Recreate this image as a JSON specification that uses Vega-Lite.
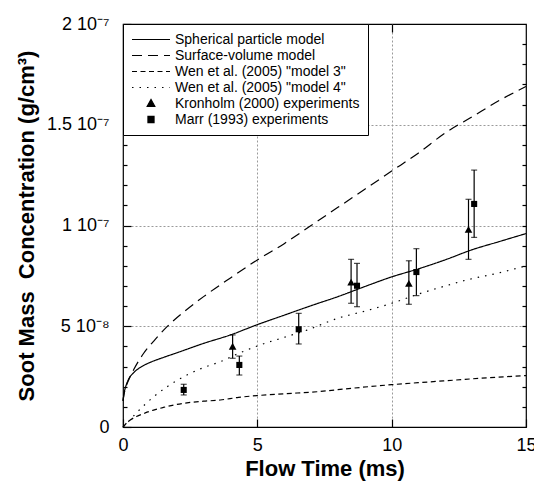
{
  "$schema": "https://vega.github.io/schema/vega-lite/v6.json",
  "width": 403,
  "height": 403,
  "autosize": {"type": "none"},
  "padding": {"left": 123, "top": 24, "right": 8, "bottom": 54},
  "background": "white",
  "config": {
    "font": "Liberation Sans",
    "view": {"stroke": "black", "strokeWidth": 1.2},
    "axis": {"domain": false, "tickColor": "black", "tickWidth": 1.2, "labelColor": "black", "titleColor": "black", "gridColor": "#9a9a9a", "gridDash": [2, 2], "gridWidth": 1, "labelFlush": false, "labelOverlap": false},
    "legend": {"labelLimit": 0}
  },
  "datasets": {
    "models": [
      {"series": "Spherical particle model", "t": 0, "c": 1.3e-8},
      {"series": "Spherical particle model", "t": 0.05, "c": 1.75e-8},
      {"series": "Spherical particle model", "t": 0.1, "c": 2.0e-8},
      {"series": "Spherical particle model", "t": 0.2, "c": 2.35e-8},
      {"series": "Spherical particle model", "t": 0.4, "c": 2.7e-8},
      {"series": "Spherical particle model", "t": 0.7, "c": 3.0e-8},
      {"series": "Spherical particle model", "t": 1.0, "c": 3.2e-8},
      {"series": "Spherical particle model", "t": 1.5, "c": 3.45e-8},
      {"series": "Spherical particle model", "t": 2.0, "c": 3.68e-8},
      {"series": "Spherical particle model", "t": 3.0, "c": 4.15e-8},
      {"series": "Spherical particle model", "t": 4.0, "c": 4.57e-8},
      {"series": "Spherical particle model", "t": 5.0, "c": 5.08e-8},
      {"series": "Spherical particle model", "t": 6.0, "c": 5.55e-8},
      {"series": "Spherical particle model", "t": 7.0, "c": 6.02e-8},
      {"series": "Spherical particle model", "t": 8.0, "c": 6.47e-8},
      {"series": "Spherical particle model", "t": 9.0, "c": 6.97e-8},
      {"series": "Spherical particle model", "t": 10.0, "c": 7.45e-8},
      {"series": "Spherical particle model", "t": 11.0, "c": 7.85e-8},
      {"series": "Spherical particle model", "t": 12.0, "c": 8.3e-8},
      {"series": "Spherical particle model", "t": 13.0, "c": 8.8e-8},
      {"series": "Spherical particle model", "t": 14.0, "c": 9.2e-8},
      {"series": "Spherical particle model", "t": 15.0, "c": 9.6e-8},
      {"series": "Surface-volume model", "t": 0, "c": 1.3e-8},
      {"series": "Surface-volume model", "t": 0.05, "c": 1.7e-8},
      {"series": "Surface-volume model", "t": 0.1, "c": 1.95e-8},
      {"series": "Surface-volume model", "t": 0.2, "c": 2.3e-8},
      {"series": "Surface-volume model", "t": 0.4, "c": 2.85e-8},
      {"series": "Surface-volume model", "t": 0.77, "c": 3.66e-8},
      {"series": "Surface-volume model", "t": 1.2, "c": 4.35e-8},
      {"series": "Surface-volume model", "t": 1.64, "c": 4.98e-8},
      {"series": "Surface-volume model", "t": 2.3, "c": 5.75e-8},
      {"series": "Surface-volume model", "t": 3.0, "c": 6.47e-8},
      {"series": "Surface-volume model", "t": 4.0, "c": 7.4e-8},
      {"series": "Surface-volume model", "t": 5.0, "c": 8.29e-8},
      {"series": "Surface-volume model", "t": 6.0, "c": 9.1e-8},
      {"series": "Surface-volume model", "t": 7.0, "c": 1.0e-7},
      {"series": "Surface-volume model", "t": 8.0, "c": 1.09e-7},
      {"series": "Surface-volume model", "t": 9.0, "c": 1.18e-7},
      {"series": "Surface-volume model", "t": 10.0, "c": 1.27e-7},
      {"series": "Surface-volume model", "t": 11.0, "c": 1.36e-7},
      {"series": "Surface-volume model", "t": 12.0, "c": 1.46e-7},
      {"series": "Surface-volume model", "t": 13.0, "c": 1.54e-7},
      {"series": "Surface-volume model", "t": 14.0, "c": 1.62e-7},
      {"series": "Surface-volume model", "t": 15.0, "c": 1.69e-7},
      {"series": "Wen et al. (2005) \"model 3\"", "t": 0, "c": 0},
      {"series": "Wen et al. (2005) \"model 3\"", "t": 0.1, "c": 0.15e-8},
      {"series": "Wen et al. (2005) \"model 3\"", "t": 0.27, "c": 0.35e-8},
      {"series": "Wen et al. (2005) \"model 3\"", "t": 0.5, "c": 0.52e-8},
      {"series": "Wen et al. (2005) \"model 3\"", "t": 0.83, "c": 0.7e-8},
      {"series": "Wen et al. (2005) \"model 3\"", "t": 1.14, "c": 0.84e-8},
      {"series": "Wen et al. (2005) \"model 3\"", "t": 1.5, "c": 0.97e-8},
      {"series": "Wen et al. (2005) \"model 3\"", "t": 1.88, "c": 1.09e-8},
      {"series": "Wen et al. (2005) \"model 3\"", "t": 2.38, "c": 1.2e-8},
      {"series": "Wen et al. (2005) \"model 3\"", "t": 3.0, "c": 1.28e-8},
      {"series": "Wen et al. (2005) \"model 3\"", "t": 3.62, "c": 1.34e-8},
      {"series": "Wen et al. (2005) \"model 3\"", "t": 4.3, "c": 1.47e-8},
      {"series": "Wen et al. (2005) \"model 3\"", "t": 5.0, "c": 1.56e-8},
      {"series": "Wen et al. (2005) \"model 3\"", "t": 6.0, "c": 1.65e-8},
      {"series": "Wen et al. (2005) \"model 3\"", "t": 7.22, "c": 1.75e-8},
      {"series": "Wen et al. (2005) \"model 3\"", "t": 8.5, "c": 1.92e-8},
      {"series": "Wen et al. (2005) \"model 3\"", "t": 10.0, "c": 2.1e-8},
      {"series": "Wen et al. (2005) \"model 3\"", "t": 11.0, "c": 2.2e-8},
      {"series": "Wen et al. (2005) \"model 3\"", "t": 12.06, "c": 2.3e-8},
      {"series": "Wen et al. (2005) \"model 3\"", "t": 13.66, "c": 2.45e-8},
      {"series": "Wen et al. (2005) \"model 3\"", "t": 15.0, "c": 2.55e-8},
      {"series": "Wen et al. (2005) \"model 4\"", "t": 0, "c": 0},
      {"series": "Wen et al. (2005) \"model 4\"", "t": 0.14, "c": 0.18e-8},
      {"series": "Wen et al. (2005) \"model 4\"", "t": 0.5, "c": 0.7e-8},
      {"series": "Wen et al. (2005) \"model 4\"", "t": 1.14, "c": 1.5e-8},
      {"series": "Wen et al. (2005) \"model 4\"", "t": 1.7, "c": 2.05e-8},
      {"series": "Wen et al. (2005) \"model 4\"", "t": 2.38, "c": 2.58e-8},
      {"series": "Wen et al. (2005) \"model 4\"", "t": 3.0, "c": 2.95e-8},
      {"series": "Wen et al. (2005) \"model 4\"", "t": 3.62, "c": 3.24e-8},
      {"series": "Wen et al. (2005) \"model 4\"", "t": 4.3, "c": 3.65e-8},
      {"series": "Wen et al. (2005) \"model 4\"", "t": 5.1, "c": 4.07e-8},
      {"series": "Wen et al. (2005) \"model 4\"", "t": 6.0, "c": 4.45e-8},
      {"series": "Wen et al. (2005) \"model 4\"", "t": 6.85, "c": 4.81e-8},
      {"series": "Wen et al. (2005) \"model 4\"", "t": 8.0, "c": 5.4e-8},
      {"series": "Wen et al. (2005) \"model 4\"", "t": 9.0, "c": 5.75e-8},
      {"series": "Wen et al. (2005) \"model 4\"", "t": 10.0, "c": 6.14e-8},
      {"series": "Wen et al. (2005) \"model 4\"", "t": 11.0, "c": 6.6e-8},
      {"series": "Wen et al. (2005) \"model 4\"", "t": 12.0, "c": 7.0e-8},
      {"series": "Wen et al. (2005) \"model 4\"", "t": 12.8, "c": 7.3e-8},
      {"series": "Wen et al. (2005) \"model 4\"", "t": 14.0, "c": 7.65e-8},
      {"series": "Wen et al. (2005) \"model 4\"", "t": 15.0, "c": 8.0e-8}
    ],
    "exps": [
      {"series": "Kronholm (2000) experiments", "t": 4.08, "c": 3.98e-8, "lo": 3.41e-8, "hi": 4.57e-8},
      {"series": "Kronholm (2000) experiments", "t": 8.49, "c": 7.16e-8, "lo": 6.14e-8, "hi": 8.32e-8},
      {"series": "Kronholm (2000) experiments", "t": 10.64, "c": 7.1e-8, "lo": 6.09e-8, "hi": 8.25e-8},
      {"series": "Kronholm (2000) experiments", "t": 12.86, "c": 9.78e-8, "lo": 8.32e-8, "hi": 1.13e-7},
      {"series": "Marr (1993) experiments", "t": 2.26, "c": 1.84e-8, "lo": 1.59e-8, "hi": 2.12e-8},
      {"series": "Marr (1993) experiments", "t": 4.33, "c": 3.08e-8, "lo": 2.58e-8, "hi": 3.52e-8},
      {"series": "Marr (1993) experiments", "t": 6.54, "c": 4.85e-8, "lo": 4.12e-8, "hi": 5.64e-8},
      {"series": "Marr (1993) experiments", "t": 8.71, "c": 7.01e-8, "lo": 5.97e-8, "hi": 8.12e-8},
      {"series": "Marr (1993) experiments", "t": 10.92, "c": 7.69e-8, "lo": 6.52e-8, "hi": 8.85e-8},
      {"series": "Marr (1993) experiments", "t": 13.07, "c": 1.107e-7, "lo": 9.41e-8, "hi": 1.275e-7}
    ]
  },
  "layer": [
    {
      "data": {"name": "models"},
      "mark": {"type": "line", "color": "black", "strokeWidth": 1.2, "interpolate": "monotone"},
      "encoding": {
        "x": {"field": "t", "type": "quantitative", "scale": {"domain": [0, 15], "nice": false},
          "axis": {"orient": "bottom", "values": [0, 5, 10, 15], "title": "Flow Time (ms)", "titleFontSize": 22, "titleFontWeight": "bold", "titlePadding": 4, "labelFontSize": 18, "labelPadding": 17, "tickSize": -8, "grid": true,
            "gridOpacity": {"condition": {"test": "datum.value > 0.01 && datum.value < 14.99", "value": 1}, "value": 0}}},
        "y": {"field": "c", "type": "quantitative", "scale": {"domain": [0, 2e-7], "nice": false},
          "axis": {"orient": "left", "values": [0, 5e-8, 1e-7, 1.5e-7, 2e-7], "title": "Soot Mass\u00a0 Concentration (g/cm³)", "titleFontSize": 22, "titleFontWeight": "bold", "titlePadding": 8, "labelFontSize": 18, "labelPadding": 22, "tickSize": -8, "grid": true,
            "labelExpr": "datum.value < 1e-9 ? '0' : abs(datum.value - 5e-8) < 1e-10 ? '5 10⁻⁸' : abs(datum.value - 1e-7) < 1e-10 ? '1 10⁻⁷' : abs(datum.value - 1.5e-7) < 1e-10 ? '1.5 10⁻⁷' : '2 10⁻⁷'",
            "gridOpacity": {"condition": {"test": "datum.value > 1e-9 && datum.value < 1.99e-7", "value": 1}, "value": 0}}},
        "strokeDash": {"field": "series", "type": "nominal",
          "scale": {"domain": ["Spherical particle model", "Surface-volume model", "Wen et al. (2005) \"model 3\"", "Wen et al. (2005) \"model 4\"", "Kronholm (2000) experiments", "Marr (1993) experiments"],
            "range": [[1, 0], [10, 6], [5, 3.5], [1.5, 6], [1, 0], [1, 0]]},
          "legend": {"title": null, "orient": "top-left", "offset": 0, "padding": 8, "strokeColor": "black", "fillColor": "white", "labelFontSize": 14, "labelColor": "black", "labelLimit": 0, "symbolSize": 1444, "clipHeight": 15, "rowPadding": 1, "labelOffset": 4, "symbolStrokeColor": "black", "symbolFillColor": "black", "symbolStrokeWidth": 1.2, "cornerRadius": 0,
            "encode": {"symbols": {"update": {"stroke": {"value": "black"}, "strokeWidth": {"value": 1.2}, "fill": {"value": "black"}, "opacity": {"value": 1}}}}}}
      }
    },
    {
      "data": {"name": "exps"},
      "mark": {"type": "errorbar", "color": "black", "thickness": 1.2, "ticks": {"size": 6, "color": "black"}},
      "encoding": {
        "x": {"field": "t", "type": "quantitative",
          "axis": {"orient": "top", "values": [5, 10], "labels": false, "tickSize": -8, "grid": false, "title": null}},
        "y": {"field": "lo", "type": "quantitative",
          "axis": {"orient": "left", "values": [1e-8, 2e-8, 3e-8, 4e-8, 6e-8, 7e-8, 8e-8, 9e-8, 1.1e-7, 1.2e-7, 1.3e-7, 1.4e-7, 1.6e-7, 1.7e-7, 1.8e-7, 1.9e-7], "labels": false, "tickSize": -4, "grid": false, "title": null}},
        "y2": {"field": "hi"}
      }
    },
    {
      "data": {"name": "exps"},
      "mark": {"type": "point", "filled": true, "size": 1444, "color": "black", "opacity": 1},
      "encoding": {
        "x": {"field": "t", "type": "quantitative", "axis": null},
        "y": {"field": "c", "type": "quantitative",
          "axis": {"orient": "right", "values": [1e-8, 2e-8, 3e-8, 4e-8, 5e-8, 6e-8, 7e-8, 8e-8, 9e-8, 1e-7, 1.1e-7, 1.2e-7, 1.3e-7, 1.4e-7, 1.5e-7, 1.6e-7, 1.7e-7, 1.8e-7, 1.9e-7], "labels": false, "tickSize": -4, "grid": false, "title": null}},
        "shape": {"field": "series", "type": "nominal",
          "scale": {"domain": ["Spherical particle model", "Surface-volume model", "Wen et al. (2005) \"model 3\"", "Wen et al. (2005) \"model 4\"", "Kronholm (2000) experiments", "Marr (1993) experiments"],
            "range": ["M-1,0H1", "M-1,0H1", "M-1,0H1", "M-1,0H1", "M0,-0.21L0.2,0.15L-0.2,0.15Z", "M-0.16,-0.16H0.16V0.16H-0.16Z"]},
          "legend": {"title": null, "orient": "top-left", "offset": 0, "padding": 8, "strokeColor": "black", "fillColor": "white", "labelFontSize": 14, "labelColor": "black", "labelLimit": 0, "symbolSize": 1444, "clipHeight": 15, "rowPadding": 1, "labelOffset": 4, "symbolStrokeColor": "black", "symbolFillColor": "black", "symbolStrokeWidth": 1.2, "cornerRadius": 0,
            "encode": {"symbols": {"update": {"stroke": {"value": "black"}, "strokeWidth": {"value": 1.2}, "fill": {"value": "black"}, "opacity": {"value": 1}}}}}},
        "strokeDash": {"field": "series", "type": "nominal"}
      }
    }
  ],
  "resolve": {"axis": {"x": "independent", "y": "independent"}}
}
